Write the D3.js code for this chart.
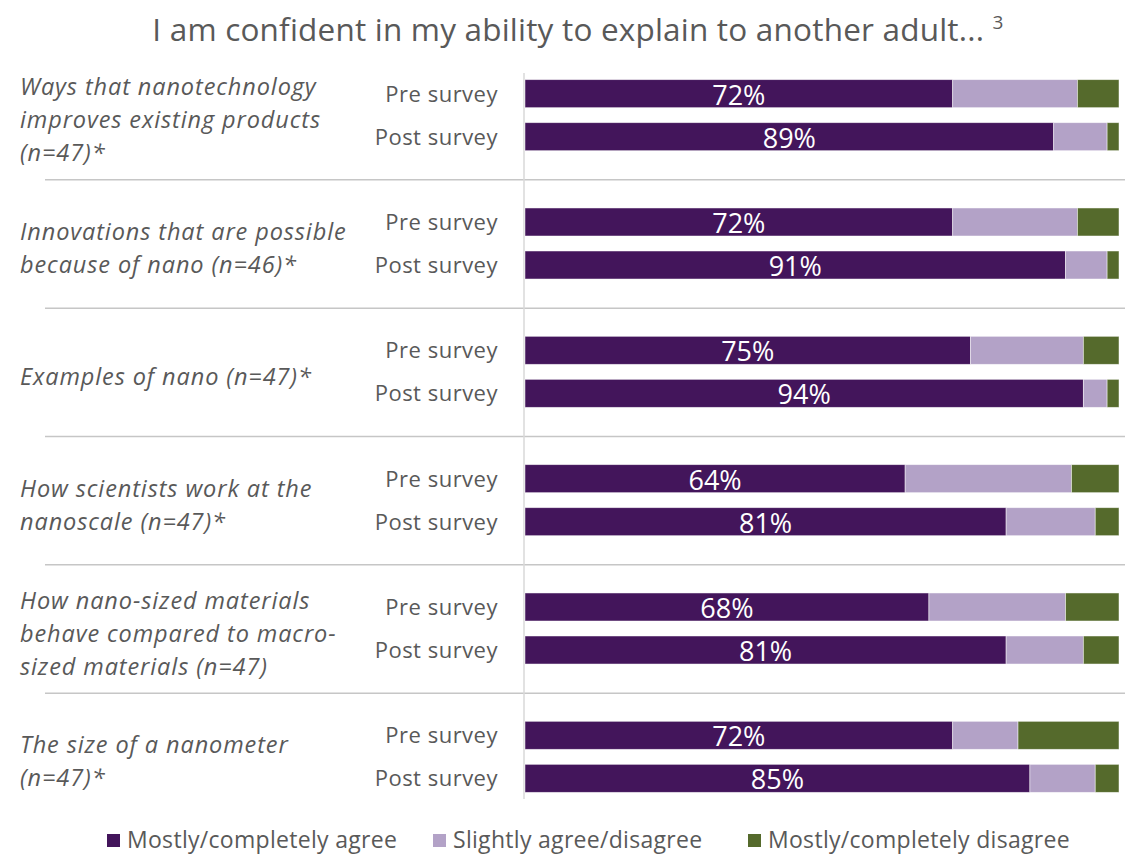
<!DOCTYPE html>
<html>
<head>
<meta charset="utf-8">
<script src="https://cdn.jsdelivr.net/npm/d3@7"></script>
<style>
  html, body { margin: 0; padding: 0; background: #fff; }
  svg { display: block; font-family: "Open Sans", Lato, sans-serif; }
</style>
</head>
<body>
<svg id="chart" width="1132" height="861"></svg>
<script>
// Statement categories (wrapped label lines) and survey waves
const categories = [
  "Ways that nanotechnology improves existing products (n=47)*",
  "Innovations that are possible because of nano (n=46)*",
  "Examples of nano (n=47)*",
  "How scientists work at the nanoscale (n=47)*",
  "How nano-sized materials behave compared to macro-sized materials (n=47)",
  "The size of a nanometer (n=47)*"
];
const categoryLines = [
  ["Ways that nanotechnology", "improves existing products", "(n=47)*"],
  ["Innovations that are possible", "because of nano (n=46)*"],
  ["Examples of nano (n=47)*"],
  ["How scientists work at the", "nanoscale (n=47)*"],
  ["How nano-sized materials", "behave compared to macro-", "sized materials (n=47)"],
  ["The size of a nanometer", "(n=47)*"]
];
const surveys = ["Pre survey", "Post survey"];
const responseLabels = ["Mostly/completely agree", "Slightly agree/disagree", "Mostly/completely disagree"];

// Percent of respondents per response, per category
const agreePre     = [72, 72, 75, 64, 68, 72];
const agreePost    = [89, 91, 94, 81, 81, 85];
const slightPre    = [21, 21, 19, 28, 23, 11];
const slightPost   = [9, 7, 4, 15, 13, 11];
const disagreePre  = [7, 7, 6, 8, 9, 17];
const disagreePost = [2, 2, 2, 4, 6, 4];

const colors = ["#43155b", "#b3a2c7", "#556a2c"];
const textColor = "#595959";

// Build one row per category × survey
const rows = [];
categories.forEach((c, i) => {
  rows.push({ cat: c, survey: surveys[0], agree: agreePre[i], slight: slightPre[i], disagree: disagreePre[i] });
  rows.push({ cat: c, survey: surveys[1], agree: agreePost[i], slight: slightPost[i], disagree: disagreePost[i] });
});
const keys = ["agree", "slight", "disagree"];
const stacked = d3.stack().keys(keys)(rows);

const svg = d3.select("#chart");

const x = d3.scaleLinear().domain([0, 100]).range([525, 1119]);
const yGroup = d3.scaleBand().domain(categories).range([51, 821]).padding(0);
const ySurvey = d3.scaleBand().domain(surveys).range([0, yGroup.bandwidth()])
  .paddingInner(0.349).paddingOuter(0.666);

// Title
const title = svg.append("text")
  .attr("x", 578).attr("y", 41)
  .attr("text-anchor", "middle")
  .attr("fill", textColor)
  .attr("font-size", 31.5)
  .attr("letter-spacing", 0.2)
  .text("I am confident in my ability to explain to another adult... ");
title.append("tspan")
  .attr("font-size", 19)
  .attr("dy", -12)
  .text("3");

// Group separators
svg.append("g")
  .selectAll("line")
  .data(categories.slice(1))
  .join("line")
  .attr("x1", 45).attr("x2", 1125)
  .attr("y1", d => yGroup(d) + 0.5)
  .attr("y2", d => yGroup(d) + 0.5)
  .attr("stroke", "#c6c6c6")
  .attr("stroke-width", 1.5);

// Vertical category axis line
svg.append("line")
  .attr("x1", 524).attr("x2", 524)
  .attr("y1", 73).attr("y2", 799)
  .attr("stroke", "#d9d9d9")
  .attr("stroke-width", 1.5);

// Stacked bars
const layer = svg.append("g")
  .selectAll("g")
  .data(stacked)
  .join("g")
  .attr("fill", (d, i) => colors[i]);

layer.selectAll("rect")
  .data(d => d)
  .join("rect")
  .attr("x", d => x(d[0]))
  .attr("width", d => x(d[1]) - x(d[0]))
  .attr("y", d => yGroup(d.data.cat) + ySurvey(d.data.survey))
  .attr("height", ySurvey.bandwidth())
  .attr("stroke", "#ffffff")
  .attr("stroke-opacity", 0.6)
  .attr("stroke-width", 0.8);

// Value labels on the agree segment
svg.append("g")
  .selectAll("text")
  .data(stacked[0])
  .join("text")
  .attr("x", d => (x(d[0]) + x(d[1])) / 2)
  .attr("y", d => yGroup(d.data.cat) + ySurvey(d.data.survey) + ySurvey.bandwidth() / 2 + 11)
  .attr("text-anchor", "middle")
  .attr("fill", "#ffffff")
  .attr("font-size", 27)
  .text(d => d.data.agree + "%");

// Survey labels
svg.append("g")
  .selectAll("text")
  .data(rows)
  .join("text")
  .attr("x", 498)
  .attr("y", d => yGroup(d.cat) + ySurvey(d.survey) + ySurvey.bandwidth() / 2 + 8)
  .attr("text-anchor", "end")
  .attr("fill", textColor)
  .attr("font-size", 22)
  .attr("letter-spacing", 0.5)
  .text(d => d.survey);

// Category labels (italic, wrapped)
const lineH = 33;
svg.append("g")
  .selectAll("text")
  .data(categories)
  .join("text")
  .attr("font-style", "italic")
  .attr("font-size", 23.5)
  .attr("letter-spacing", 0.9)
  .attr("fill", textColor)
  .each(function (d, i) {
    const lines = categoryLines[i];
    const cy = yGroup(d) + yGroup.bandwidth() / 2 + 5;
    const top = cy - (lines.length - 1) * lineH / 2 + 8;
    d3.select(this).selectAll("tspan")
      .data(lines)
      .join("tspan")
      .attr("x", 20)
      .attr("y", (l, j) => top + j * lineH)
      .text(l => l);
  });

// Legend
const legendX = [107, 433, 748];
const legend = svg.append("g")
  .selectAll("g")
  .data(responseLabels)
  .join("g")
  .attr("transform", (d, i) => `translate(${legendX[i]},834)`);
legend.append("rect")
  .attr("width", 13).attr("height", 13)
  .attr("fill", (d, i) => colors[i]);
legend.append("text")
  .attr("x", 20).attr("y", 14)
  .attr("fill", textColor)
  .attr("font-size", 23)
  .attr("letter-spacing", 0.3)
  .text(d => d);
</script>
</body>
</html>
